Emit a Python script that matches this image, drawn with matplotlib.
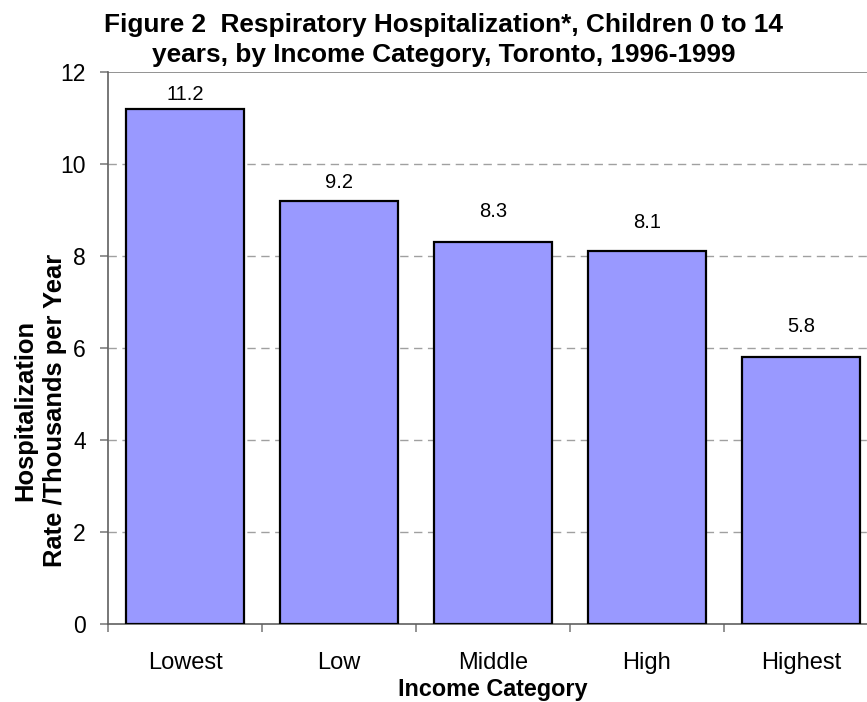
import matplotlib
matplotlib.use("Agg")
import matplotlib.pyplot as plt

categories = ["Lowest", "Low", "Middle", "High", "Highest"]
values = [11.2, 9.2, 8.3, 8.1, 5.8]
value_labels = ["11.2", "9.2", "8.3", "8.1", "5.8"]
yticks = [0, 2, 4, 6, 8, 10, 12]

plt.rcParams['font.family'] = ['Liberation Sans', 'DejaVu Sans']

fig = plt.figure(figsize=(8.67, 7.02), dpi=100)
ax = fig.add_axes([108/867, 1-624/702, 770/867, (624-72)/702])

x = list(range(len(categories)))
ax.bar(x, values, width=0.77, color="#9999FF", edgecolor="black", linewidth=1.6, zorder=3)

label_offsets = [3.5, 6, 15, 14, 15]
for xi, v, lab, off in zip(x, values, value_labels, label_offsets):
    ax.annotate(lab, (xi, v), xytext=(0, off), textcoords="offset points",
                ha="center", va="bottom", fontsize=14.5)

ax.set_xlim(-0.5, len(categories) - 0.5)
ax.set_ylim(0, 12)
ax.set_yticks(yticks)
ax.set_yticklabels([str(t) for t in yticks], fontsize=16.5)
ax.set_xticks([i - 0.5 for i in range(len(categories) + 1)], minor=False)
ax.set_xticklabels([])
ax.set_xticks(x, minor=True)
ax.set_xticklabels(categories, minor=True, fontsize=17)
ax.tick_params(axis="x", which="minor", length=0, pad=20)
ax.tick_params(axis="x", which="major", length=6, color="#808080", width=1.2)
ax.tick_params(axis="y", length=6, color="#808080", width=1.2, pad=10)

for t in yticks[1:-1]:
    ax.axhline(t, color="#a0a0a0", linestyle=(0, (6, 4)), linewidth=1, zorder=1)
ax.axhline(12, color="#808080", linewidth=1.2, zorder=1)

for s in ["top", "right"]:
    ax.spines[s].set_visible(False)
for s in ["left", "bottom"]:
    ax.spines[s].set_color("#606060")
    ax.spines[s].set_linewidth(1.2)

ax.set_ylabel("Hospitalization\nRate /Thousands per Year", fontsize=18.4, fontweight="bold",
              linespacing=1.3)
ax.yaxis.set_label_coords(-(108-67)/770, (624-410)/552)
ax.set_xlabel("Income Category", fontsize=16.8, fontweight="bold", labelpad=3)

fig.text(444/867, 1-40/702, "Figure 2  Respiratory Hospitalization*, Children 0 to 14\nyears, by Income Category, Toronto, 1996-1999",
         ha="center", va="center", fontsize=18.9, fontweight="bold", linespacing=1.3)

fig.savefig("out.png", dpi=100)
